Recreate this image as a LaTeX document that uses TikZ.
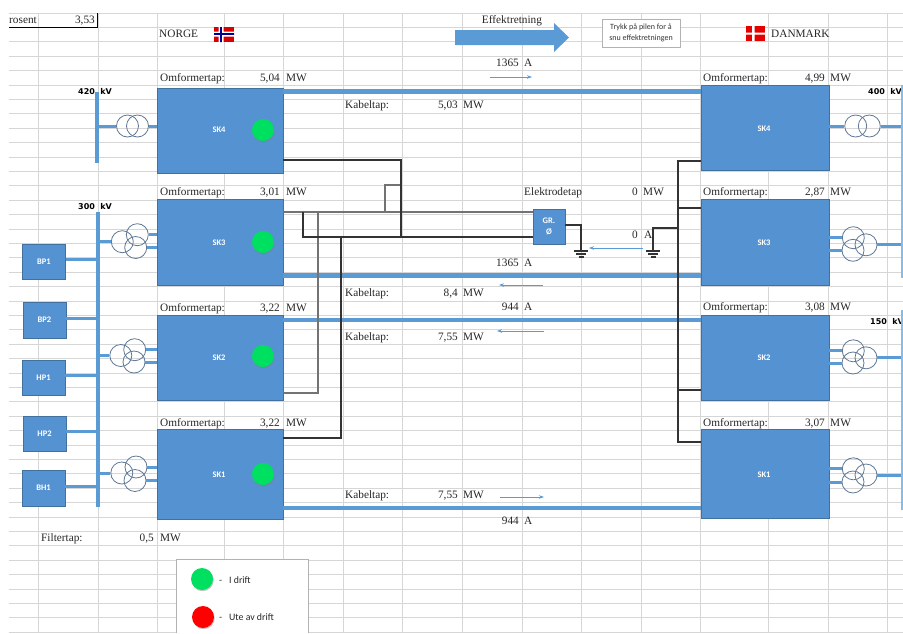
\documentclass[tikz,border=0pt]{standalone}
\usepackage{fontspec}
\setmainfont{Liberation Serif}
\setsansfont{Carlito}
\newfontfamily\kvfont{DejaVu Sans}
\usetikzlibrary{arrows.meta, shadows}
\definecolor{hvdcblue}{RGB}{85,146,210}
\definecolor{hvdcedge}{RGB}{65,113,156}
\definecolor{cablelight}{RGB}{91,155,213}
\definecolor{buspale}{RGB}{130,190,235}
\definecolor{coilgrey}{RGB}{95,120,150}
\definecolor{cellgrey}{RGB}{214,214,214}
\definecolor{lampgreen}{RGB}{0,224,96}
\tikzset{
  txt/.style={inner sep=0pt, text height=9pt, text depth=1.2pt, font=\fontsize{11.3}{13}\selectfont, text=black!85},
  lft/.style={txt, anchor=west},
  rgt/.style={txt, anchor=east},
  kvtxt/.style={inner sep=0pt, anchor=west, font=\kvfont\bfseries\fontsize{8}{9}\selectfont},
  station/.style={draw=hvdcedge, fill=hvdcblue, text=white, font=\sffamily\bfseries\fontsize{8.5}{11}\selectfont, inner sep=0pt},
  converter/.style={station, minimum width=#1},
  plant/.style={station, minimum width=43pt, minimum height=35.5pt},
  coil/.style={circle, draw=coilgrey, line width=.8pt, minimum size=22pt, inner sep=0pt},
  lamp/.style={circle, fill=#1, minimum size=22pt, inner sep=0pt, drop shadow={shadow xshift=.7pt, shadow yshift=-1.2pt, opacity=.45}},
  legtxt/.style={inner sep=0pt, anchor=west, font=\sffamily\fontsize{9.8}{11}\selectfont, text=black!85},
  bus/.style={cablelight, line width=4pt},
  feeder/.style={cablelight, line width=3pt},
  cable/.style={cablelight, line width=5pt},
  wire/.style={black!80, line width=2pt},
  greywire/.style={black!55, line width=2pt},
  flow/.style={cablelight, line width=.7pt, -{Stealth[length=5pt,width=3.5pt]}},
  earth/.pic={
    \draw[black!80, line width=1.3pt] (-7,0) -- (7,0) (-5,3) -- (5,3) (-2.5,6) -- (2.5,6);
  }
}

\begin{document}
\begin{tikzpicture}[x=1pt, y=-1pt]
  \useasboundingbox (0,0) rectangle (903,633);

  % Spreadsheet cells
  \foreach \k in {0,...,43}
    \draw[cellgrey, line width=.8pt] (9,{13+14.4*\k}) -- (903,{13+14.4*\k});
  \foreach \gx in {38,98,157,224,283,343,402,462,522,581,641,700,768,828,887}
    \draw[cellgrey, line width=.8pt] (\gx,13) -- (\gx,633);

  % Percentage cell
  \node[lft] (pctname) at (9,20) {rosent};
  \node[rgt] (pctvalue) at (95,20) {3,53};
  \draw[black, line width=1pt] (9,27) -- (97,27) -- (97,13);

  % Countries
  \node[lft] (norge) at (159,34) {NORGE};
  \node[lft] (danmark) at (771,34) {DANMARK};
  \fill[red!85!black] (214,27) rectangle (234,42);
  \fill[white] (218.5,27) rectangle (223.5,42) (214,31.5) rectangle (234,36.5);
  \fill[blue!60!black] (220.2,27) rectangle (221.8,42) (214,33.2) rectangle (234,34.8);
  \fill[red!90!black] (746,26) rectangle (765,41);
  \fill[white] (752,26) rectangle (754.5,41) (746,32.5) rectangle (765,34.5);

  % Power direction
  \node[txt] (efftxt) at (512,20) {Effektretning};
  \fill[cablelight] (455,30) -- (554,30) -- (554,23) -- (569,37.5) -- (554,52) -- (554,45) -- (455,45) -- cycle;
  \node[draw=black!30, fill=white, minimum width=78pt, minimum height=28pt, inner sep=0pt, align=center,
    font=\sffamily\fontsize{8}{10.5}\selectfont, text=black!80] (hint) at (641,33) {Trykk på pilen for å\\snu effektretningen};

  % Cables between the stations
  \node[station, minimum width=32pt, minimum height=35pt, align=center] (gr) at (549,226.5) {GR.\\Ø};
  \foreach \n/\cy/\hh in {lsk4/130.5/85pt, lsk3/242/86pt, lsk2/357.5/85pt, lsk1/474/90pt}
    \node[converter=126pt, minimum height=\hh] (\n) at (220,\cy) {};
  \foreach \n/\cy/\hh in {rsk4/127.5/85pt, rsk3/242/86pt, rsk2/357.5/85pt, rsk1/473.5/89pt}
    \node[converter=128pt, minimum height=\hh] (\n) at (765,\cy) {};
  \node[station, draw=none, fill=none] (tlsk4) at (219,130) {SK4};
  \node[station, draw=none, fill=none] (tlsk3) at (219,243) {SK3};
  \node[station, draw=none, fill=none] (tlsk2) at (219,358) {SK2};
  \node[station, draw=none, fill=none] (tlsk1) at (219,475) {SK1};
  \node[station, draw=none, fill=none] (trsk4) at (764,129) {SK4};
  \node[station, draw=none, fill=none] (trsk3) at (764,243) {SK3};
  \node[station, draw=none, fill=none] (trsk2) at (764,358) {SK2};
  \node[station, draw=none, fill=none] (trsk1) at (764,475) {SK1};

  \coordinate (c4) at (400,91);
  \coordinate (c3) at (400,275.5);
  \coordinate (c2) at (400,319.5);
  \coordinate (c1) at (400,508);
  \draw[cable] (lsk4.east |- c4) -- (rsk4.west |- c4);
  \draw[cable] (lsk3.east |- c3) -- (rsk3.west |- c3);
  \draw[cable, line width=4pt] (lsk2.east |- c2) -- (rsk2.west |- c2);
  \draw[cable, line width=4pt] (lsk1.east |- c1) -- (rsk1.west |- c1);

  % Metallic return, Norway side
  \coordinate (j4) at (401,160);
  \coordinate (j4b) at (385,185);
  \coordinate (jgrey) at (318,212);
  \coordinate (jtop) at (303,212);
  \coordinate (jlow) at (303,236.5);
  \coordinate (jbox) at (341,236.5);
  \coordinate (jsk2) at (318,393);
  \coordinate (jsk1) at (341,438);
  \draw[greywire] (lsk3.east |- jgrey) -- (gr.west |- jgrey);
  \draw[greywire] (jgrey) -- (jsk2) -- (lsk2.east |- jsk2);
  \draw[greywire] (j4b |- jgrey) -- (j4b) -- (j4 |- j4b);
  \draw[wire] (lsk4.east |- j4) -- (j4) -- (j4 |- jlow);
  \draw[wire] (jtop) -- (jlow) -- (gr.west |- jlow);
  \draw[wire] (jbox) -- (jsk1) -- (lsk1.east |- jsk1);

  % Metallic return, Denmark side
  \coordinate (d4) at (678,161);
  \coordinate (d3) at (678,207.5);
  \coordinate (d2) at (678,390);
  \coordinate (d1) at (678,442);
  \coordinate (dg) at (678,227.5);
  \draw[wire] (rsk4.west |- d4) -- (d4) -- (d1) -- (rsk1.west |- d1);
  \draw[wire] (d3) -- (rsk3.west |- d3);
  \draw[wire] (d2) -- (rsk2.west |- d2);

  % Earthing
  \coordinate (gnd1) at (581,251);
  \coordinate (gnd2) at (653,251);
  \coordinate (gr1) at (581,225);
  \draw[wire] (gr.east |- gr1) -- (gr1) -- (gnd1);
  \draw[wire] (dg) -- (gnd2 |- dg) -- (gnd2);
  \pic at (gnd1) {earth};
  \pic at (gnd2) {earth};

  % Busbars
  \coordinate (b420a) at (96.5,92);
  \coordinate (b420b) at (96.5,163);
  \coordinate (b300a) at (97.5,212);
  \coordinate (b300b) at (97.5,507);
  \draw[bus] (b420a) -- (b420b);
  \draw[bus] (b300a) -- (b300b);
  \coordinate (b400a) at (902,85);
  \coordinate (b400b) at (902,278);
  \coordinate (b150a) at (902,310);
  \coordinate (b150b) at (902,510);
  \node[kvtxt] (kv420) at (78,92) {420\hspace{5.5pt}kV};
  \node[kvtxt] (kv300) at (78,207) {300\hspace{5.5pt}kV};
  \node[kvtxt] (kv400) at (868,92) {400\hspace{5.5pt}kV};
  \node[kvtxt] (kv150) at (870,322) {150\hspace{5.5pt}kV};

  % Plants on the 300 kV bus
  \foreach \n/\lab/\cx/\cy in {bp1/BP1/44/261.5, bp2/BP2/44.5/320, hp1/HP1/43.5/377.5, hp2/HP2/44.5/433.5, bh1/BH1/43.5/488}{
    \node[plant] (\n) at (\cx,\cy) {\lab};
    \draw[feeder] (\n.east |- 0,\cy-2) -- (97.5,\cy-2);
  }

  % Transformers, Norway
  \node[coil] (tl4a) at (127.5,126) {};
  \node[coil] (tl4b) at (137.5,126) {};
  \draw[feeder] (b420a |- tl4a) -- (tl4a.west);
  \draw[feeder] (tl4b.east) -- (lsk4.west |- tl4b);
  \foreach \n/\ax/\ay/\bx/\by/\cx/\cy/\s in {3/122.3/241.7/137.3/234.7/135.7/247.5/lsk3, 2/120.8/355.5/134.7/349.7/134/362/lsk2, 1/121.8/473/136/467/135/480.5/lsk1}{
    \node[coil] (tl\n a) at (\ax,\ay) {};
    \node[coil] (tl\n b) at (\bx,\by) {};
    \node[coil] (tl\n c) at (\cx,\cy) {};
    \draw[feeder] (b300a |- tl\n a) -- (tl\n a.west);
    \draw[feeder] (tl\n b.east) -- (\s.west |- tl\n b);
    \draw[feeder] (tl\n c.east) -- (\s.west |- tl\n c);
  }

  % Transformers, Denmark
  \node[coil] (tr4a) at (855.7,126) {};
  \node[coil] (tr4b) at (869.3,126) {};
  \draw[feeder] (rsk4.east |- tr4a) -- (tr4a.west);
  \draw[feeder] (tr4b.east) -- (b400a |- tr4b);
  \foreach \n/\ay/\by/\cy/\s/\o in {3/237.7/250.3/244.8/rsk3/b400a, 2/350.8/363/357.8/rsk2/b150a, 1/468.8/482/475/rsk1/b150a}{
    \node[coil] (tr\n a) at (853.3,\ay) {};
    \node[coil] (tr\n b) at (853,\by) {};
    \node[coil] (tr\n c) at (866,\cy) {};
    \draw[feeder] (\s.east |- tr\n a) -- (tr\n a.west);
    \draw[feeder] (\s.east |- tr\n b) -- (tr\n b.west);
    \draw[feeder] (tr\n c.east) -- (\o |- tr\n c);
  }
  \draw[buspale, line width=2pt] (b400a) -- (b400b);
  \draw[buspale, line width=2pt] (b150a) -- (b150b);

  % Running lamps
  \node[lamp=lampgreen] (lamp4) at (263,130) {};
  \node[lamp=lampgreen] (lamp3) at (263,242) {};
  \node[lamp=lampgreen] (lamp2) at (263,356) {};
  \node[lamp=lampgreen] (lamp1) at (263,474) {};

  % Converter losses
  \foreach \n/\ly/\val in {a/78/{5,04}, b/192/{3,01}, c/308/{3,22}, d/423/{3,22}}{
    \node[lft] (ol\n) at (160,\ly) {Omformertap:};
    \node[rgt] (vl\n) at (280,\ly) {\val};
    \node[lft] (ul\n) at (286,\ly) {MW};
  }
  \foreach \n/\ly/\val in {a/78/{4,99}, b/192/{2,87}, c/307/{3,08}, d/423/{3,07}}{
    \node[lft] (or\n) at (703,\ly) {Omformertap:};
    \node[rgt] (vr\n) at (825,\ly) {\val};
    \node[lft] (ur\n) at (830,\ly) {MW};
  }

  % Cable losses
  \foreach \n/\ly/\val in {a/105/{5,03}, b/293/{8,4}, c/337/{7,55}, d/495/{7,55}}{
    \node[lft] (kt\n) at (345,\ly) {Kabeltap:};
    \node[rgt] (kv\n) at (458,\ly) {\val};
    \node[lft] (ku\n) at (463,\ly) {MW};
  }

  % Cable currents
  \foreach \n/\ly/\val in {a/63/1365, b/263/1365, c/307/944, d/521/944}{
    \node[rgt] (iv\n) at (519,\ly) {\val};
    \node[lft] (iu\n) at (524,\ly) {A};
  }
  \coordinate (fa1) at (490,77);  \coordinate (fa2) at (532,77);
  \coordinate (fb1) at (543,285); \coordinate (fb2) at (499,285);
  \coordinate (fc1) at (544,331); \coordinate (fc2) at (497,331);
  \coordinate (fd1) at (500,497); \coordinate (fd2) at (544,497);
  \coordinate (fe1) at (643,248); \coordinate (fe2) at (589,248);
  \draw[flow] (fa1) -- (fa2);
  \draw[flow] (fb1) -- (fb2);
  \draw[flow] (fc1) -- (fc2);
  \draw[flow] (fd1) -- (fd2);
  \draw[flow] (fe1) -- (fe2);

  % Electrode
  \node[lft] (elname) at (524,192) {Elektrodetap};
  \node[rgt] (elval) at (638,192) {0};
  \node[lft] (elunit) at (643,192) {MW};
  \node[rgt] (elamp) at (638,235) {0};
  \node[lft] (elampu) at (644,235) {A};

  % Filter
  \node[lft] (filt) at (41,538) {Filtertap:};
  \node[rgt] (filtv) at (154,538) {0,5};
  \node[lft] (filtu) at (160,538) {MW};

  % Legend
  \fill[white] (176,559) rectangle (308,633);
  \draw[black!30, line width=.8pt] (176,633) -- (176,559) -- (308,559) -- (308,633);
  \node[lamp=lampgreen] (legon) at (202,579) {};
  \node[lamp=red] (legoff) at (203,617) {};
  \node[legtxt] (legontxt) at (219,580) {-\hspace{7pt}I drift};
  \node[legtxt] (legofftxt) at (219,617) {-\hspace{7pt}Ute av drift};
\end{tikzpicture}
\end{document}
